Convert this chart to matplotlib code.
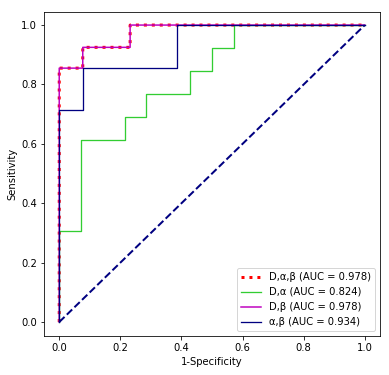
import matplotlib
matplotlib.use("Agg")
import matplotlib.pyplot as plt

# ROC curves
fpr_dab = [0.0, 0.0, 0.077, 0.077, 0.232, 0.232, 1.0]
tpr_dab = [0.0, 0.855, 0.855, 0.925, 0.925, 1.0, 1.0]

fpr_da = [0.0, 0.0, 0.072, 0.072, 0.215, 0.215, 0.285, 0.285, 0.429, 0.429, 0.5, 0.5, 0.572, 0.572, 1.0]
tpr_da = [0.0, 0.307, 0.307, 0.612, 0.612, 0.69, 0.69, 0.768, 0.768, 0.845, 0.845, 0.922, 0.922, 1.0, 1.0]

fpr_db = fpr_dab
tpr_db = tpr_dab

fpr_ab = [0.0, 0.0, 0.077, 0.077, 0.385, 0.385, 1.0]
tpr_ab = [0.0, 0.714, 0.714, 0.855, 0.855, 1.0, 1.0]

auc_dab, auc_da, auc_db, auc_ab = 0.978, 0.824, 0.978, 0.934

fig = plt.figure(figsize=(389 / 72, 375 / 72), dpi=72)
ax = fig.add_axes([0.113, 0.104, 0.864, 0.864])

ax.plot(fpr_dab, tpr_dab, color="red", lw=3, linestyle=":", snap=False,
        label=f"D,\u03b1,\u03b2 (AUC = {auc_dab:.3f})")
ax.plot(fpr_da, tpr_da, color="limegreen", lw=1.3,
        label=f"D,\u03b1 (AUC = {auc_da:.3f})")
ax.plot(fpr_db, tpr_db, color="m", lw=1.5, snap=False,
        label=f"D,\u03b2 (AUC = {auc_db:.3f})")
ax.plot(fpr_ab, tpr_ab, color="navy", lw=1.3,
        label=f"\u03b1,\u03b2 (AUC = {auc_ab:.3f})")
ax.plot([0, 1], [0, 1], color="navy", lw=2, linestyle="--")

ax.set_xlim(-0.05, 1.05)
ax.set_ylim(-0.047, 1.044)
ax.set_xlabel("1-Specificity")
ax.set_ylabel("Sensitivity")
ax.legend(loc="lower right")

fig.savefig("out.png", dpi=72)
